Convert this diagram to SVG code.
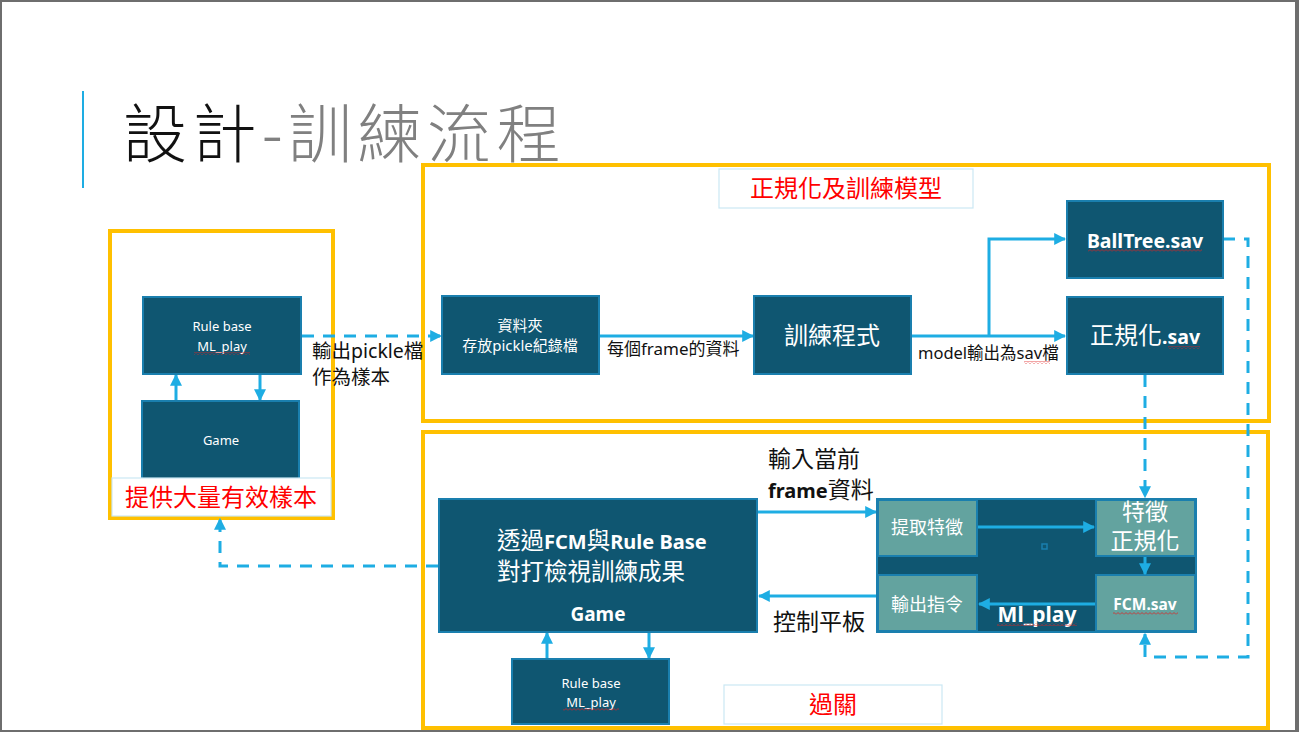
<svg xmlns="http://www.w3.org/2000/svg" width="1299" height="732" viewBox="0 0 1299 732">
<style>
.t{font-family:"Noto Sans","Noto Sans CJK TC",sans-serif}
.box{fill:#0F5671;stroke:#1A7FAE;stroke-width:2}
.sub{fill:#63A39F;stroke:#1A7FAE;stroke-width:2}
.yel{fill:none;stroke:#FFC000;stroke-width:4}
.lab{fill:#fff;stroke:#CBE8F3;stroke-width:1.2}
.w{fill:#fff}
.red{fill:#FF0000}
.blk{fill:#111}
.ln{fill:none;stroke:#1EADE3;stroke-width:3}
.dash{fill:none;stroke:#1EADE3;stroke-width:3;stroke-dasharray:12 9}
.wave{fill:url(#wv)}
</style>
<defs>
<marker id="ah" viewBox="0 0 10 10" refX="9" refY="5" markerWidth="4" markerHeight="4" orient="auto">
<path d="M0,0 L10,5 L0,10 z" fill="#1EADE3"/>
</marker>
<pattern id="wv" width="4" height="3" patternUnits="userSpaceOnUse">
<path d="M0,2.5 L2,0.5 L4,2.5" fill="none" stroke="#E02020" stroke-width="0.8"/>
</pattern>
</defs>
<rect x="0" y="0" width="1299" height="732" fill="#fff"/>
<rect x="1" y="1" width="1296" height="730" fill="none" stroke="#6E6E6E" stroke-width="2"/>
<rect x="1295" y="0" width="4" height="732" fill="#6E6E6E"/>

<g id="title">
<line x1="83" y1="91" x2="83" y2="188" stroke="#1EADE3" stroke-width="2"/>
<text class="t" x="123" y="157" font-size="64" font-weight="300" letter-spacing="5.5"><tspan fill="#111">設計</tspan><tspan fill="#808080">-訓練流程</tspan></text>
</g>

<g id="group-samples">
<rect class="yel" x="110" y="231" width="223" height="287"/>
</g>
<g id="group-train">
<rect class="yel" x="423" y="165" width="846" height="256"/>
</g>
<g id="group-test">
<rect class="yel" x="423" y="432" width="845" height="296"/>
</g>

<g id="connectors">
<line class="ln" x1="176" y1="400" x2="176" y2="375" marker-end="url(#ah)"/>
<line class="ln" x1="260" y1="375" x2="260" y2="400" marker-end="url(#ah)"/>
<line class="dash" x1="302" y1="336" x2="441" y2="336" marker-end="url(#ah)"/>
<line class="ln" x1="599" y1="336" x2="753" y2="336" marker-end="url(#ah)"/>
<line class="ln" x1="911" y1="336" x2="1065" y2="336" marker-end="url(#ah)"/>
<polyline class="ln" points="989,336 989,239 1065,239" marker-end="url(#ah)"/>
<polyline class="dash" points="1223,239 1248,239 1248,657 1145,657 1145,634" marker-end="url(#ah)"/>
<line class="dash" x1="1145" y1="375" x2="1145" y2="497" marker-end="url(#ah)"/>
<line class="ln" x1="758" y1="512" x2="876" y2="512" marker-end="url(#ah)"/>
<line class="ln" x1="877" y1="596" x2="759" y2="596" marker-end="url(#ah)"/>
<line class="ln" x1="547" y1="658" x2="547" y2="633" marker-end="url(#ah)"/>
<line class="ln" x1="649" y1="633" x2="649" y2="658" marker-end="url(#ah)"/>
<polyline class="dash" points="438,566 220,566 220,519" marker-end="url(#ah)"/>
</g>

<g id="node-rulebase1">
<rect class="box" x="143" y="297" width="158" height="77"/>
<text class="t w" x="222" y="331" font-size="13" text-anchor="middle">Rule base</text>
<text class="t w" x="222" y="351" font-size="13" text-anchor="middle">ML_play</text>
<rect class="wave" x="194" y="352" width="56" height="3"/>
</g>
<g id="node-game1">
<rect class="box" x="142" y="401" width="157" height="78"/>
<text class="t w" x="221" y="445" font-size="13" text-anchor="middle">Game</text>
</g>
<g id="label-samples">
<rect class="lab" x="112" y="478" width="219" height="38"/>
<text class="t red" x="221" y="506" font-size="24" text-anchor="middle">提供大量有效樣本</text>
</g>
<g id="label-pickle">
<text class="t blk" x="312" y="358" font-size="19.5">輸出pickle檔</text>
<text class="t blk" x="312" y="384" font-size="19.5">作為樣本</text>
</g>

<g id="label-train">
<rect class="lab" x="719" y="169" width="254" height="39"/>
<text class="t red" x="846" y="197" font-size="24" text-anchor="middle">正規化及訓練模型</text>
</g>
<g id="node-folder">
<rect class="box" x="442" y="296" width="157" height="78"/>
<text class="t w" x="520" y="331" font-size="15" text-anchor="middle">資料夾</text>
<text class="t w" x="520" y="351" font-size="15" text-anchor="middle">存放pickle紀錄檔</text>
</g>
<text class="t blk" x="607" y="355" font-size="17">每個frame的資料</text>
<g id="node-trainprog">
<rect class="box" x="754" y="296" width="157" height="78"/>
<text class="t w" x="832" y="344" font-size="24" text-anchor="middle">訓練程式</text>
</g>
<g id="node-balltree">
<rect class="box" x="1067" y="201" width="156" height="77"/>
<text class="t w" x="1145" y="248" font-size="19.5" font-weight="bold" text-anchor="middle">BallTree.sav</text>
<rect class="wave" x="1088" y="249" width="114" height="3"/>
</g>
<g id="node-normsav">
<rect class="box" x="1067" y="297" width="156" height="77"/>
<text class="t w" x="1145" y="344" font-size="24" text-anchor="middle">正規化<tspan font-weight="bold" font-size="19.5">.sav</tspan></text>
<rect class="wave" x="1168" y="346" width="32" height="3"/>
</g>
<text class="t blk" x="918" y="359" font-size="16.5">model輸出為sav檔</text>
<rect class="wave" x="1024" y="361" width="26" height="3"/>

<g id="node-fcmgame">
<rect class="box" x="439" y="499" width="318" height="133"/>
<text class="t w" x="497" y="549" font-size="23.5">透過<tspan font-weight="bold" font-size="20">FCM</tspan>與<tspan font-weight="bold" font-size="20">Rule Base</tspan></text>
<text class="t w" x="497" y="580" font-size="23.5">對打檢視訓練成果</text>
<text class="t w" x="598" y="621" font-size="19" font-weight="bold" text-anchor="middle">Game</text>
</g>
<g id="label-input">
<text class="t blk" x="768" y="467" font-size="23">輸入當前</text>
<text class="t blk" x="768" y="498" font-size="23"><tspan font-weight="bold" font-size="20">frame</tspan>資料</text>
</g>
<text class="t blk" x="773" y="630" font-size="23">控制平板</text>
<g id="node-rulebase2">
<rect class="box" x="512" y="659" width="157" height="65"/>
<text class="t w" x="591" y="688" font-size="13" text-anchor="middle">Rule base</text>
<text class="t w" x="591" y="707" font-size="13" text-anchor="middle">ML_play</text>
<rect class="wave" x="563" y="708" width="56" height="3"/>
</g>
<g id="label-pass">
<rect class="lab" x="724" y="685" width="218" height="39"/>
<text class="t red" x="833" y="713" font-size="24" text-anchor="middle">過關</text>
</g>

<g id="node-mlplay">
<rect class="box" x="877" y="499" width="319" height="133"/>
<rect x="1042" y="544" width="5" height="5" fill="none" stroke="#1A7FAE" stroke-width="1.5"/>
<text class="t w" x="1037" y="622" font-size="21" font-weight="bold" text-anchor="middle">Ml_play</text>
<rect class="wave" x="997" y="623" width="80" height="3"/>
</g>
<g id="node-extract">
<rect class="sub" x="878" y="500" width="99" height="56"/>
<text class="t w" x="927" y="534" font-size="18" text-anchor="middle">提取特徵</text>
</g>
<g id="node-featnorm">
<rect class="sub" x="1096" y="500" width="99" height="56"/>
<text class="t w" x="1145" y="520" font-size="23" text-anchor="middle">特徵</text>
<text class="t w" x="1145" y="549" font-size="23" text-anchor="middle">正規化</text>
</g>
<g id="node-output">
<rect class="sub" x="878" y="575" width="99" height="56"/>
<text class="t w" x="927" y="611" font-size="18" text-anchor="middle">輸出指令</text>
</g>
<g id="node-fcmsav">
<rect class="sub" x="1096" y="575" width="99" height="56"/>
<text class="t w" x="1145" y="610" font-size="15.5" font-weight="bold" text-anchor="middle">FCM.sav</text>
<rect class="wave" x="1113" y="612" width="65" height="3"/>
</g>
<g id="connectors-inner">
<line class="ln" x1="978" y1="527" x2="1094" y2="527" marker-end="url(#ah)"/>
<line class="ln" x1="1145" y1="557" x2="1145" y2="574" marker-end="url(#ah)"/>
<line class="ln" x1="1095" y1="604" x2="979" y2="604" marker-end="url(#ah)"/>
</g>
</svg>
